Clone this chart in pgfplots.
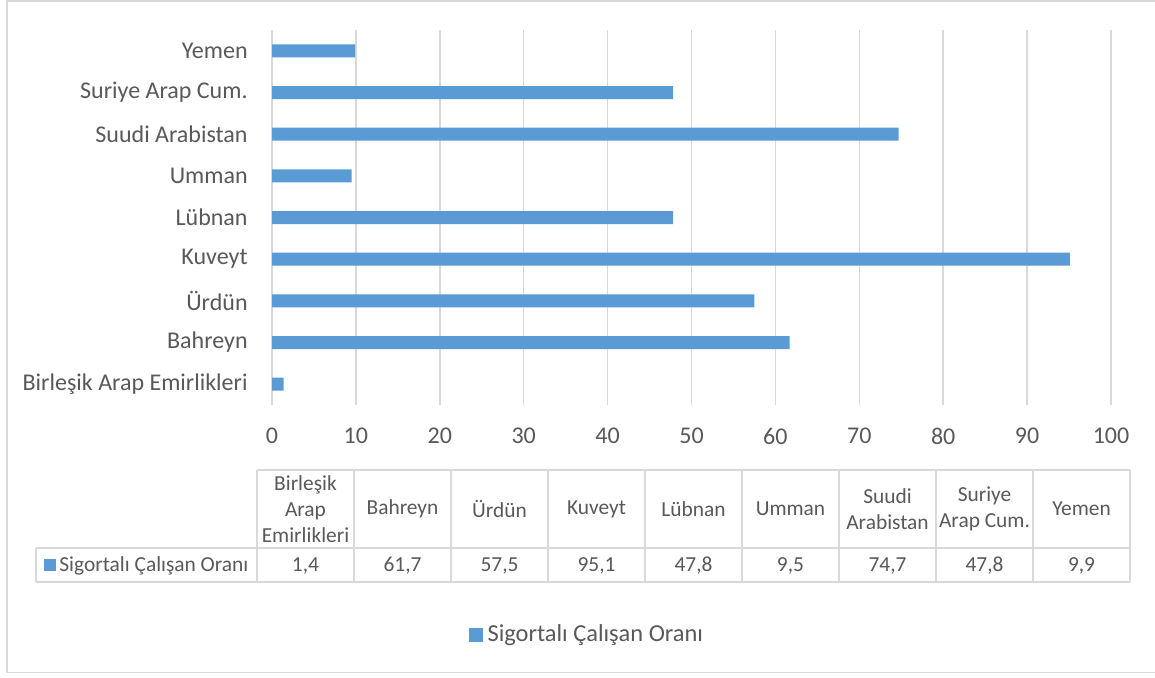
\documentclass[border=0pt]{standalone}
\usepackage{pgfplots}
\pgfplotsset{compat=1.18}
\usepackage{fontspec}
\setmainfont{Carlito}

\definecolor{barblue}{HTML}{5B9BD5}
\definecolor{gridgray}{HTML}{D9D9D9}
\definecolor{textgray}{HTML}{595959}

\begin{document}
\begin{tikzpicture}
% page frame, in pixel-like units (0.5pt each, y pointing down)
\begin{scope}[x=0.5pt,y=-0.5pt]
  \fill[white] (0,0) rectangle (1155,677);
  \draw[gridgray, line width=0.75pt] (1155,1) -- (7,1) -- (7,672.5) -- (1155,672.5);
\end{scope}

\begin{axis}[
  at={(136pt,-202.5pt)}, anchor=south west,
  scale only axis, width=419.5pt, height=187.5pt,
  xbar, bar width=6.5pt,
  xmin=0, xmax=100, ymin=-0.5, ymax=8.5,
  xtick={0,10,...,100},
  ytick={0,...,8},
  yticklabels={Birleşik Arap Emirlikleri, Bahreyn, Ürdün, Kuveyt, Lübnan, Umman, Suudi Arabistan, Suriye Arap Cum., Yemen},
  xmajorgrids, grid style={draw=gridgray, line width=0.75pt},
  axis line style={draw=none},
  major tick length=0pt,
  /pgf/number format/assume math mode=true,
  tick label style={font=\fontsize{12}{14}\selectfont, text=textgray, inner sep=0pt},
  yticklabel style={xshift=-12pt},
  xticklabel style={yshift=-11.5pt},
  legend style={at={(0.3755,-0.613)}, anchor=center, draw=none, fill=none,
    font=\fontsize{12.2}{14}\selectfont, text=textgray, inner sep=0pt,
    nodes={inner sep=1pt},
    /tikz/every odd column/.append style={column sep=1.5pt}},
  legend image code/.code={\fill[barblue] (0pt,-3.4pt) rectangle (6.8pt,3.4pt);},
]
\addplot[fill=barblue, draw=none] coordinates {
  (1.4,0) (61.7,1) (57.5,2) (95.1,3) (47.8,4) (9.5,5) (74.7,6) (47.8,7) (9.9,8)
};
\addlegendentry{Sigortalı Çalışan Oranı}
\end{axis}

% data table below the chart
\begin{scope}[x=0.5pt,y=-0.5pt, every node/.style={text=textgray, font=\fontsize{10.7}{13}\selectfont, align=center, inner sep=0pt}]
  \draw[gridgray, line width=0.75pt] (257,470) -- (1130,470);
  \draw[gridgray, line width=0.75pt] (36,548) -- (1130,548);
  \draw[gridgray, line width=0.75pt] (36,582) -- (1130,582);
  \draw[gridgray, line width=0.75pt] (36,548) -- (36,582);
  \foreach \i in {0,...,9} {
    \draw[gridgray, line width=0.75pt] ({257+97*\i},470) -- ({257+97*\i},582);
  }
  \foreach \lab [count=\i from 0] in {{Birleşik\\Arap\\Emirlikleri}, Bahreyn, Ürdün, Kuveyt, Lübnan, Umman, {Suudi\\Arabistan}, {Suriye\\Arap Cum.}, Yemen} {
    \node at ({305.5+97*\i},509) {\lab};
  }
  \foreach \v [count=\i from 0] in {{1,4}, {61,7}, {57,5}, {95,1}, {47,8}, {9,5}, {74,7}, {47,8}, {9,9}} {
    \node at ({305.5+97*\i},565.5) {\v};
  }
  \fill[barblue] (44,559) rectangle (56,571);
  \node[anchor=west] at (59,565.5) {Sigortalı Çalışan Oranı};
\end{scope}

\pgfresetboundingbox
\path[use as bounding box] (0pt,0pt) rectangle (577.5pt,-338.5pt);
\end{tikzpicture}
\end{document}
